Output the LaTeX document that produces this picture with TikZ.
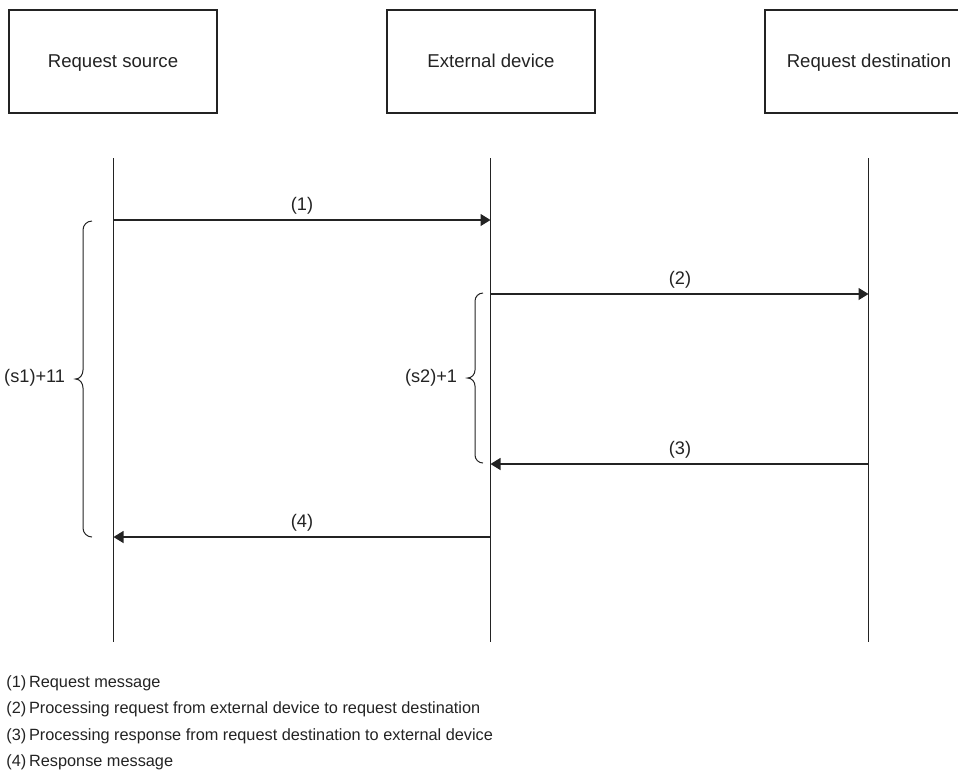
\documentclass[tikz,border=0pt]{standalone}
\usepackage{fontspec}
\setmainfont{Liberation Sans}
\usetikzlibrary{arrows.meta}
\definecolor{ink}{RGB}{35,35,35}
\tikzset{
  actor/.style={draw=ink, line width=0.6pt, minimum width=104pt, minimum height=51.5pt, inner sep=0pt, text=ink, text height=6.2pt, text depth=0pt, font=\fontsize{9.3pt}{11pt}\selectfont},
  life/.style={draw=ink, line width=0.6pt},
  msg/.style={draw=ink, line width=0.6pt, -{Triangle[length=5pt,width=6pt]}},
  lbl/.style={text=ink, font=\fontsize{9.1pt}{11pt}\selectfont, inner sep=0pt, anchor=base},
  brc/.style={draw=ink, line width=0.5pt},
  legend/.style={text=ink, font=\fontsize{8.15pt}{10pt}\selectfont, inner sep=0pt, anchor=base west}
}
\begin{document}
\begin{tikzpicture}[x=0.5pt, y=-0.5pt]
\useasboundingbox (0,0) rectangle (958,773);
% actors
\node[actor] (src) at (113,61.5) {Request source};
\node[actor] (ext) at (491,61.5) {External device};
\node[actor] (dst) at (869,61.5) {Request destination};
% lifelines
\coordinate (srcT) at (113.5,158);
\coordinate (srcB) at (113.5,642);
\coordinate (extT) at (490.5,158);
\coordinate (extB) at (490.5,642);
\coordinate (dstT) at (868.5,158);
\coordinate (dstB) at (868.5,642);
\draw[life] (srcT) -- (srcB);
\draw[life] (extT) -- (extB);
\draw[life] (dstT) -- (dstB);
% message endpoints
\coordinate (s1) at (113.5,220);
\coordinate (e1) at (490.5,220);
\coordinate (e2) at (490.5,294);
\coordinate (d2) at (868.5,294);
\coordinate (d3) at (868.5,464);
\coordinate (e3) at (490.5,464);
\coordinate (e4) at (490.5,537);
\coordinate (s4) at (113.5,537);
\draw[msg] (s1) -- (e1);
\draw[msg] (e2) -- (d2);
\draw[msg] (d3) -- (e3);
\draw[msg] (e4) -- (s4);
\node[lbl] (l1) at (302,210) {(1)};
\node[lbl] (l2) at (680,284) {(2)};
\node[lbl] (l3) at (680,454) {(3)};
\node[lbl] (l4) at (302,527) {(4)};
% braces
\draw[brc] (92,221) to[out=180,in=90] (83,230) -- (83,370) to[out=-90,in=0] (75.5,379) to[out=0,in=90] (83,388) -- (83,528) to[out=-90,in=180] (92,537);
\draw[brc] (483,293) to[out=180,in=90] (475,301) -- (475,370) to[out=-90,in=0] (467.5,378) to[out=0,in=90] (475,386) -- (475,455) to[out=-90,in=180] (483,463);
\node[lbl, anchor=base east] (b1) at (65.5,382.5) {(s1)+11};
\node[lbl, anchor=base east] (b2) at (457.5,382.5) {(s2)+1};
% legend
\node[legend] (g1) at (6,687) {(1)\hspace{0.17em}Request message};
\node[legend] (g2) at (6,713.5) {(2)\hspace{0.17em}Processing request from external device to request destination};
\node[legend] (g3) at (6,740) {(3)\hspace{0.17em}Processing response from request destination to external device};
\node[legend] (g4) at (6,766.5) {(4)\hspace{0.17em}Response message};
\end{tikzpicture}
\end{document}
